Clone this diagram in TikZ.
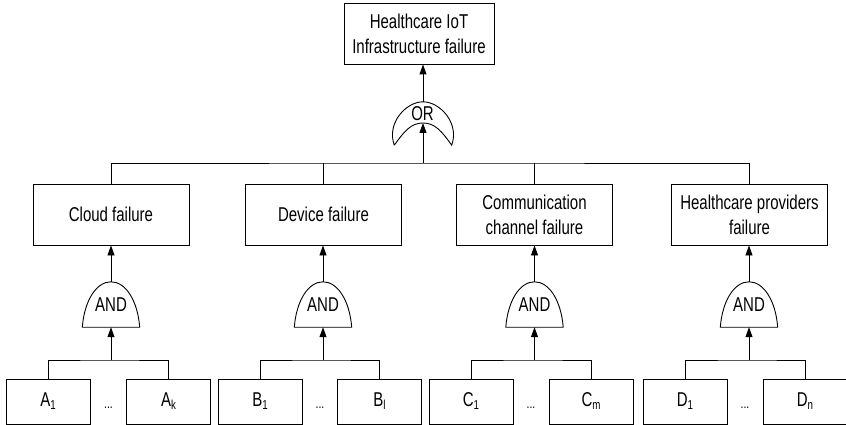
\documentclass[tikz,border=0pt]{standalone}
\usepackage{fontspec}
\usetikzlibrary{arrows.meta}
\newfontfamily\labfont[FakeStretch=0.75]{Liberation Sans}
\newcommand\mysub[1]{\raisebox{-3pt}{\fontsize{13}{13}\selectfont #1}}
\begin{document}
\begin{tikzpicture}[x=1pt,y=-1pt,
  every node/.style={font=\labfont\fontsize{20}{25}\selectfont, inner sep=0pt},
  box/.style={draw, line width=0.9pt, minimum width=156, minimum height=61, align=center},
  topbox/.style={draw, line width=0.9pt, minimum width=150, minimum height=61, align=center},
  leaf/.style={draw, line width=0.9pt, minimum width=84, minimum height=45},
  gatebox/.style={minimum width=57, minimum height=45},
  gateline/.style={line width=0.9pt},
  link/.style={line width=0.9pt},
  arr/.style={line width=0.9pt, -{Triangle[length=10pt,width=7pt]}},
  dots/.style={font=\labfont\fontsize{14}{14}\selectfont}
]
\useasboundingbox (0,0) rectangle (846,425);

% top event
\node[topbox] (top) at (419,33.5) {Healthcare IoT\\Infrastructure failure};

% OR gate
\node[minimum width=57, minimum height=43] (orgate) at (423,123.5) {};
\coordinate (ortip) at (423,123);
\draw[gateline] (orgate.south west) .. controls +(-8,-22) and +(-17,0) .. (orgate.north)
  .. controls +(17,0) and +(8,-22) .. (orgate.south east)
  .. controls +(-10,-14) and +(12,0) .. (ortip)
  .. controls +(-12,0) and +(10,-14) .. (orgate.south west);
\node (ortext) at (422.5,114) {OR};

% intermediate events
\node[box] (cloud) at (111,214.5) {Cloud failure};
\node[box] (dev) at (323.5,214.5) {Device failure};
\node[box] (comm) at (534.5,214.5) {Communication\\channel failure};
\node[box] (prov) at (749.5,214.5) {Healthcare providers\\failure};

% top bus
\coordinate (topbus) at (423,163);
\draw[link] (cloud.north) |- (topbus) -| (prov.north);
\draw[link] (dev.north) -- (dev.north |- topbus);
\draw[link] (comm.north) -- (comm.north |- topbus);
\draw[arr] (topbus) -- (ortip);
\draw[arr] (orgate.north) -- (orgate.north |- top.south);

% AND gates
\foreach \g/\c/\m in {gA/111/cloud, gB/323/dev, gC/534.5/comm, gD/749/prov}{
  \node[gatebox] (\g) at (\c,304.5) {AND};
  \draw[gateline] (\g.south west) .. controls +(2,-26) and +(-15,0) .. (\g.north)
    .. controls +(15,0) and +(-2,-26) .. (\g.south east) -- cycle;
  \draw[arr] (\g.north) -- (\g.north |- \m.south);
}

% basic events
\node[leaf] (a1) at (48,401.5) {A\mysub{1}};
\node[leaf] (ak) at (168.5,401.5) {A\mysub{k}};
\node[dots] (da) at (108.5,408) {...};
\node[leaf] (b1) at (260,401.5) {B\mysub{1}};
\node[leaf] (bl) at (379.5,401.5) {B\mysub{l}};
\node[dots] (db) at (320,408) {...};
\node[leaf] (c1) at (471,401.5) {C\mysub{1}};
\node[leaf] (cm) at (591,401.5) {C\mysub{m}};
\node[dots] (dc) at (531,408) {...};
\node[leaf] (d1) at (685,401.5) {D\mysub{1}};
\node[leaf] (dn) at (805,401.5) {D\mysub{n}};
\node[dots] (dd) at (745,408) {...};

% lower buses
\foreach \l/\r/\g in {a1/ak/gA, b1/bl/gB, c1/cm/gC, d1/dn/gD}{
  \coordinate (bus\g) at (\g.south |- 0,360);
  \draw[link] (\l.north) |- (bus\g) -| (\r.north);
  \draw[arr] (bus\g) -- (\g.south);
}
\end{tikzpicture}
\end{document}
